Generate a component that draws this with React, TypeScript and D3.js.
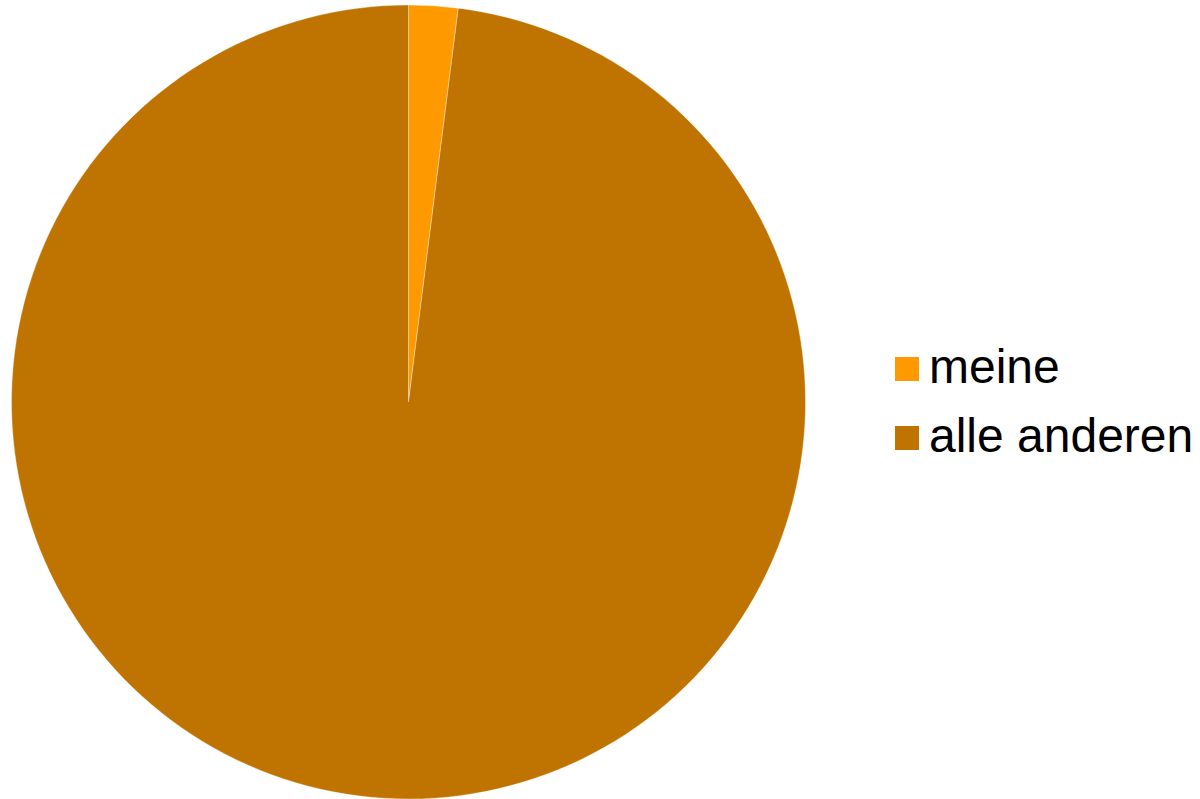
import React from "react";
import * as d3 from "d3";

const categories = ["meine", "alle anderen"];
const values = [2, 98];
const colors = ["#ff9900", "#bf7300"];

export default function App() {
  const width = 1200;
  const height = 799;
  const cx = 408.5;
  const cy = 402;
  const r = 397;
  const data = categories.map((c, i) => ({ c, v: values[i], color: colors[i] }));
  const pie = d3.pie<any>().sort(null).value((d: any) => d.v);
  const arc = d3.arc<any>().innerRadius(0).outerRadius(r);
  const arcs = pie(data);
  return (
    <svg
      width={width}
      height={height}
      style={{ position: "absolute", left: 0, top: 0, background: "#fff" }}
    >
      <g transform={`translate(${cx},${cy})`}>
        {arcs.map((a, i) => (
          <path
            key={i}
            d={arc(a) as string}
            fill={a.data.color}
            stroke="#ffffff"
            strokeOpacity={0.35}
            strokeWidth={1}
          />
        ))}
      </g>
      {data.map((d, i) => (
        <g key={d.c} transform={`translate(895,${357 + i * 69})`}>
          <rect width={24} height={24} fill={d.color} />
          <text
            x={34}
            y={25.5}
            fontFamily="Liberation Sans, Arial, sans-serif"
            fontSize={48}
            fill="#000"
          >
            {d.c}
          </text>
        </g>
      ))}
    </svg>
  );
}
